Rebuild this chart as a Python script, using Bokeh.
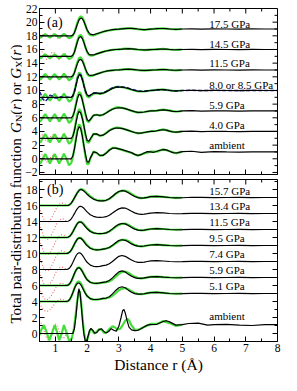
from bokeh.plotting import figure
from bokeh.layouts import row, column
from bokeh.models import FixedTicker, Range1d, Label
from bokeh.core.properties import value
from bokeh.embed import file_html
from bokeh.resources import INLINE
import math

SERIF = "Liberation Serif"
GREEN = "#45dd3c"
RED = "#f26a6a"
BLUE = "#1e1e90"

# ---------------- axis ticks ----------------
X_MAJOR = [1, 2, 3, 4, 5, 6, 7, 8]
X_MINOR = [0.5, 1.5, 2.5, 3.5, 4.5, 5.5, 6.5, 7.5]
YA_MAJOR = [-2, 0, 2, 4, 6, 8, 10, 12, 14, 16, 18, 20, 22]
YA_MINOR = [-1, 1, 3, 5, 7, 9, 11, 13, 15, 17, 19, 21]
YB_MAJOR = [0, 2, 4, 6, 8, 10, 12, 14, 16, 18]
YB_MINOR = [-1, 1, 3, 5, 7, 9, 11, 13, 15, 17, 19]

# ---------------- panel (a) ----------------
A_LABELS = ["ambient", "4.0 GPa", "5.9 GPa", "8.0 or 8.5 GPa", "11.5 GPa", "14.5 GPa", "17.5 GPa"]
A_OFFSET = [0, 3, 6, 9, 12, 15, 18]
A_LABEL_Y = [2.0, 5.0, 7.9, 10.8, 14.0, 16.75, 19.8]

RA = [0.5, 1.5, 1.55, 1.6, 1.65, 1.7, 1.75, 1.8, 1.85, 1.9, 1.95, 2.0, 2.05, 2.1,
      2.2, 2.3, 2.4, 2.5, 2.6, 2.7, 2.8, 2.9, 3.0, 3.1, 3.2, 3.3, 3.4, 3.5, 3.6, 3.7,
      3.8, 3.9, 4.0, 4.1, 4.2, 4.3, 4.4, 4.5, 4.6, 4.7, 4.8, 4.9,
      5.0, 5.3, 5.6, 6.0, 6.4, 6.8, 7.2, 7.6, 8.0]

A_AMB = [0, 0, 0.4, 1.4, 2.8, 4.1, 4.7, 4.4, 3.3, 1.9, 0.6, -0.45, -0.5, 0.1,
         1.0, 0.9, 0.5, 0.5, 0.8, 1.25, 1.55, 1.55, 1.45, 1.35, 1.2, 1.05, 0.9, 0.65, 0.5, 0.6,
         0.85, 1.05, 1.0, 0.95, 1.1, 1.25, 1.35, 1.3, 1.1, 0.9, 0.85, 0.95,
         1.05, 1.1, 0.95, 1.05, 1.0, 0.97, 1.02, 1.0, 1.0]
A_40 = [0, 0, 0.3, 1.1, 2.3, 3.4, 3.95, 3.7, 2.9, 1.8, 0.6, -0.3, -0.45, -0.1,
        0.6, 0.65, 0.4, 0.45, 0.75, 1.1, 1.35, 1.5, 1.5, 1.45, 1.3, 1.15, 1.0, 0.85, 0.75, 0.75,
        0.85, 0.95, 1.0, 1.0, 1.1, 1.2, 1.25, 1.2, 1.05, 0.92, 0.9, 0.95,
        1.0, 1.05, 0.97, 1.03, 1.0, 0.98, 1.01, 1.0, 1.0]
A_59 = [0, 0, 0.25, 0.9, 1.9, 2.9, 3.45, 3.3, 2.6, 1.6, 0.6, -0.25, -0.5, -0.25,
        0.35, 0.45, 0.35, 0.45, 0.7, 1.0, 1.25, 1.4, 1.45, 1.45, 1.35, 1.2, 1.05, 0.9, 0.8, 0.8,
        0.85, 0.95, 1.0, 1.0, 1.05, 1.12, 1.15, 1.12, 1.05, 0.95, 0.92, 0.95,
        1.0, 1.04, 0.98, 1.02, 1.0, 0.98, 1.01, 1.0, 1.0]
A_80 = [0, 0, 0.2, 0.8, 1.7, 2.7, 3.3, 3.2, 2.6, 1.7, 0.9, 0.35, 0.2, 0.3,
        0.6, 0.65, 0.55, 0.6, 0.8, 1.05, 1.3, 1.45, 1.5, 1.5, 1.4, 1.3, 1.15, 1.0, 0.9, 0.85,
        0.88, 0.95, 1.0, 1.02, 1.08, 1.12, 1.12, 1.08, 1.0, 0.95, 0.93, 0.96,
        1.0, 1.03, 0.98, 1.02, 1.0, 0.99, 1.01, 1.0, 1.0]
A_115 = [0, 0, 0.15, 0.6, 1.3, 2.0, 2.45, 2.55, 2.3, 1.75, 1.15, 0.6, 0.3, 0.2,
         0.25, 0.4, 0.55, 0.7, 0.82, 0.9, 0.95, 1.0, 1.02, 1.05, 1.1, 1.12, 1.1, 1.05, 1.0, 0.95,
         0.93, 0.95, 0.98, 1.0, 1.02, 1.05, 1.06, 1.04, 1.0, 0.97, 0.96, 0.98,
         1.0, 1.02, 0.99, 1.01, 1.0, 0.99, 1.01, 1.0, 1.0]
A_145 = [0, 0, 0.15, 0.6, 1.4, 2.2, 2.75, 2.9, 2.6, 2.0, 1.3, 0.7, 0.35, 0.2,
         0.2, 0.35, 0.5, 0.65, 0.78, 0.88, 0.95, 1.0, 1.03, 1.06, 1.1, 1.12, 1.1, 1.05, 1.0, 0.96,
         0.94, 0.95, 0.98, 1.0, 1.03, 1.05, 1.06, 1.04, 1.0, 0.97, 0.96, 0.98,
         1.0, 1.02, 0.99, 1.01, 1.0, 0.99, 1.01, 1.0, 1.0]
A_175 = [0, 0, 0.1, 0.45, 1.1, 1.8, 2.35, 2.6, 2.5, 2.1, 1.5, 0.9, 0.5, 0.25,
         0.15, 0.3, 0.45, 0.6, 0.72, 0.82, 0.9, 0.95, 0.98, 1.02, 1.06, 1.1, 1.1, 1.06, 1.0, 0.95,
         0.92, 0.93, 0.97, 1.0, 1.04, 1.07, 1.07, 1.04, 1.0, 0.96, 0.95, 0.97,
         1.0, 1.03, 0.98, 1.01, 1.0, 0.99, 1.01, 1.0, 1.0]

GA_R = [0.5, 0.53, 0.6, 0.68, 0.76, 0.83, 0.9, 0.98, 1.05, 1.12, 1.2, 1.27, 1.35, 1.43, 1.5,
        1.55, 1.6, 1.65, 1.7, 1.75, 1.8, 1.85, 1.9, 1.95, 2.0, 2.05, 2.1,
        2.2, 2.3, 2.4, 2.5, 2.6, 2.7, 2.8, 2.9, 3.0, 3.2, 3.4, 3.6, 3.8, 4.0, 4.2, 4.4, 4.6, 4.8, 5.0]
GA_AMB = [-0.55, -0.7, 0.0, 0.7, 0.0, -0.7, 0.0, 0.7, 0.0, -0.7, 0.0, 0.75, 0.0, -0.95, -0.6,
          0.2, 1.5, 3.0, 4.4, 5.05, 4.7, 3.4, 1.8, 0.3, -0.8, -0.75, 0.0,
          1.05, 0.85, 0.45, 0.5, 0.85, 1.3, 1.6, 1.6, 1.45, 1.15, 0.85, 0.45, 0.8, 1.05, 1.05, 1.4, 1.1, 0.8, 1.05]
GA_40 = [-0.45, -0.6, 0.0, 0.6, 0.0, -0.6, 0.0, 0.6, 0.0, -0.6, 0.0, 0.65, 0.0, -0.8, -0.5,
         0.15, 1.2, 2.5, 3.7, 4.25, 4.0, 3.0, 1.7, 0.4, -0.55, -0.65, -0.2,
         0.65, 0.6, 0.35, 0.45, 0.8, 1.15, 1.4, 1.55, 1.55, 1.3, 1.0, 0.7, 0.85, 1.0, 1.1, 1.3, 1.05, 0.88, 1.0]
GA_59 = [-0.4, -0.55, 0.0, 0.55, 0.0, -0.55, 0.0, 0.55, 0.0, -0.55, 0.0, 0.6, 0.0, -0.75, -0.45,
         0.1, 1.0, 2.1, 3.2, 3.75, 3.55, 2.7, 1.6, 0.45, -0.45, -0.65, -0.3,
         0.35, 0.45, 0.3, 0.45, 0.72, 1.05, 1.3, 1.5, 1.55, 1.35, 1.0, 0.75, 0.85, 1.0, 1.05, 1.2, 1.05, 0.9, 1.0]
GA_80 = [-0.35, -0.5, 0.0, 0.5, 0.0, -0.5, 0.0, 0.5, 0.0, -0.5, 0.0, 0.55, 0.0, -0.65, -0.4,
         0.1, 0.9, 1.9, 3.0, 3.6, 3.45, 2.75, 1.75, 0.8, 0.15, 0.0, 0.15,
         0.55, 0.6, 0.5, 0.6, 0.82, 1.1, 1.35, 1.5, 1.55, 1.4, 1.1, 0.85, 0.85, 1.0, 1.08, 1.15, 1.0, 0.92, 1.0]
GA_115 = [-0.3, -0.4, 0.0, 0.4, 0.0, -0.4, 0.0, 0.4, 0.0, -0.4, 0.0, 0.45, 0.0, -0.5, -0.3,
          0.05, 0.65, 1.45, 2.25, 2.75, 2.85, 2.5, 1.85, 1.1, 0.45, 0.15, 0.1,
          0.2, 0.4, 0.55, 0.7, 0.82, 0.9, 0.95, 1.0, 1.02, 1.12, 1.1, 0.98, 0.9, 0.98, 1.03, 1.08, 1.0, 0.95, 1.0]
GA_145 = [-0.2, -0.3, 0.0, 0.3, 0.0, -0.3, 0.0, 0.3, 0.0, -0.3, 0.0, 0.32, 0.0, -0.4, -0.25,
          0.05, 0.65, 1.5, 2.4, 3.0, 3.15, 2.8, 2.1, 1.3, 0.6, 0.25, 0.1,
          0.15, 0.33, 0.5, 0.65, 0.78, 0.88, 0.95, 1.0, 1.03, 1.12, 1.1, 0.98, 0.9, 0.98, 1.03, 1.08, 1.0, 0.95, 1.0]
GA_175 = [-0.18, -0.25, 0.0, 0.25, 0.0, -0.25, 0.0, 0.25, 0.0, -0.25, 0.0, 0.28, 0.0, -0.35, -0.2,
          0.02, 0.5, 1.2, 2.0, 2.6, 2.85, 2.7, 2.2, 1.5, 0.8, 0.35, 0.1,
          0.05, 0.25, 0.42, 0.58, 0.7, 0.8, 0.88, 0.94, 0.98, 1.08, 1.1, 0.98, 0.88, 0.97, 1.05, 1.08, 1.0, 0.94, 1.0]

RED_A_R = [0.5, 0.58, 0.65, 0.72, 0.8, 0.87, 0.95, 1.02, 1.1, 1.17, 1.25, 1.32, 1.4, 1.5]
RED_A_AMB = [0.3, 0.6, 0.1, -0.5, -0.3, 0.4, 0.55, 0.0, -0.55, -0.2, 0.5, 0.45, -0.3, 0.0]
RED_A_40 = [0.3, 0.55, 0.0, -0.5, -0.25, 0.45, 0.5, -0.05, -0.5, -0.15, 0.45, 0.35, -0.25, 0.0]
RED_A_145 = [0.3, 0.65, 0.3, -0.45, -0.3, 0.5, 0.65, 0.0, -0.5, -0.3, 0.3, 0.35, -0.1, 0.0]
RED_A_175 = [0.1, 0.2, 0.0, -0.2, -0.1, 0.15, 0.25, -0.1, -0.45, -0.3, 0.2, 0.3, -0.15, 0.0]

BLUE_R = [0.5, 0.53, 0.6, 0.68, 0.76, 0.83, 0.9, 0.98, 1.05, 1.12, 1.2, 1.27, 1.35, 1.43, 1.5,
          1.55, 1.6, 1.65, 1.7, 1.75, 1.8, 1.85, 1.9, 1.95, 2.0, 2.05, 2.1,
          2.2, 2.3, 2.4, 2.5, 2.6, 2.7, 2.8, 2.9, 3.0, 3.2, 3.4, 3.6, 3.8, 4.0, 4.2, 4.4, 4.6, 4.8, 5.0,
          5.3, 5.6, 6.0, 6.4, 6.8, 7.2, 7.6, 8.0]
BLUE_80 = [0.8, 0.6, -0.2, -0.6, -0.2, 0.3, 0.2, -0.1, -0.1, 0.1, 0.05, -0.05, 0.0, 0.0, 0.0,
           0.2, 0.85, 1.8, 2.85, 3.4, 3.3, 2.65, 1.7, 0.9, 0.35, 0.2, 0.3,
           0.6, 0.65, 0.55, 0.62, 0.85, 1.12, 1.38, 1.52, 1.55, 1.45, 1.2, 0.92, 0.88, 1.0, 1.08, 1.12, 1.02, 0.93, 1.0,
           1.03, 0.98, 1.02, 1.0, 0.99, 1.01, 1.0, 1.0]

# ---------------- panel (b) ----------------
B_LABELS = ["ambient", "5.1 GPa", "5.9 GPa", "7.4 GPa", "9.5 GPa", "11.5 GPa", "13.4 GPa", "15.7 GPa"]
B_OFFSET = [0, 4, 6, 8, 10, 12, 14, 16]
B_LABEL_Y = [2.2, 5.9, 7.95, 9.97, 11.9, 13.95, 16.0, 17.8]

RB = [0.5, 1.35, 1.4, 1.45, 1.5, 1.55, 1.6, 1.65, 1.7, 1.75, 1.8, 1.85, 1.9, 1.95, 2.0,
      2.1, 2.2, 2.3, 2.4, 2.5, 2.6, 2.7, 2.8, 2.9, 3.0, 3.1, 3.2, 3.3, 3.4, 3.5, 3.6, 3.7, 3.8, 3.9, 4.0,
      4.2, 4.4, 4.6, 4.8, 5.0, 5.3, 5.6, 6.0, 6.4, 6.8, 7.2, 7.6, 8.0]
B_157 = [0, 0, 0.02, 0.1, 0.3, 0.6, 0.95, 1.3, 1.65, 1.9, 2.0, 1.95, 1.8, 1.6, 1.4,
         1.05, 0.8, 0.65, 0.58, 0.58, 0.65, 0.85, 1.15, 1.5, 1.75, 1.85, 1.8, 1.6, 1.35, 1.12, 0.98, 0.92, 0.95, 1.02, 1.1,
         1.15, 1.08, 1.0, 0.96, 0.97, 1.03, 1.02, 0.98, 1.0, 1.01, 0.99, 1.0, 1.0]
B_134 = [0, 0, 0.03, 0.12, 0.32, 0.62, 0.98, 1.35, 1.65, 1.85, 1.9, 1.82, 1.65, 1.42, 1.2,
         0.85, 0.65, 0.55, 0.52, 0.53, 0.6, 0.78, 1.05, 1.35, 1.58, 1.7, 1.68, 1.5, 1.28, 1.08, 0.95, 0.9, 0.92, 0.98, 1.05,
         1.1, 1.07, 1.0, 0.97, 0.98, 1.02, 1.02, 0.98, 1.0, 1.01, 0.99, 1.0, 1.0]
B_115 = [0, 0, 0.03, 0.15, 0.38, 0.72, 1.1, 1.48, 1.78, 1.93, 1.93, 1.8, 1.58, 1.33, 1.1,
         0.75, 0.58, 0.5, 0.48, 0.5, 0.58, 0.78, 1.08, 1.4, 1.65, 1.75, 1.7, 1.5, 1.25, 1.05, 0.93, 0.9, 0.93, 1.0, 1.06,
         1.1, 1.06, 1.0, 0.97, 0.98, 1.02, 1.02, 0.98, 1.0, 1.01, 0.99, 1.0, 1.0]
B_95 = [0, 0, 0.04, 0.18, 0.42, 0.78, 1.18, 1.55, 1.83, 1.95, 1.9, 1.72, 1.48, 1.2, 0.98,
        0.65, 0.5, 0.45, 0.47, 0.55, 0.62, 0.75, 1.02, 1.35, 1.62, 1.72, 1.65, 1.45, 1.2, 1.02, 0.92, 0.9, 0.94, 1.0, 1.06,
        1.1, 1.05, 1.0, 0.97, 0.98, 1.02, 1.02, 0.98, 1.0, 1.01, 0.99, 1.0, 1.0]
B_74 = [0, 0, 0.05, 0.2, 0.48, 0.88, 1.32, 1.72, 2.0, 2.1, 2.02, 1.8, 1.5, 1.18, 0.9,
        0.55, 0.4, 0.37, 0.4, 0.48, 0.55, 0.72, 1.0, 1.35, 1.65, 1.75, 1.65, 1.42, 1.18, 1.0, 0.9, 0.88, 0.93, 1.0, 1.07,
        1.12, 1.06, 1.0, 0.97, 0.98, 1.02, 1.02, 0.98, 1.0, 1.01, 0.99, 1.0, 1.0]
B_59 = [0, 0, 0.05, 0.22, 0.55, 1.0, 1.5, 1.92, 2.18, 2.22, 2.05, 1.75, 1.38, 1.02, 0.72,
        0.4, 0.28, 0.27, 0.32, 0.4, 0.45, 0.62, 0.95, 1.35, 1.7, 1.82, 1.7, 1.42, 1.15, 0.98, 0.9, 0.9, 0.95, 1.02, 1.08,
        1.12, 1.05, 1.0, 0.97, 0.98, 1.02, 1.02, 0.98, 1.0, 1.01, 0.99, 1.0, 1.0]
B_51 = [0, 0, 0.06, 0.25, 0.62, 1.1, 1.62, 2.05, 2.28, 2.3, 2.1, 1.75, 1.35, 0.98, 0.68,
        0.36, 0.25, 0.25, 0.3, 0.38, 0.43, 0.6, 0.95, 1.38, 1.72, 1.85, 1.72, 1.42, 1.15, 0.98, 0.92, 0.92, 0.97, 1.05, 1.1,
        1.15, 1.08, 1.0, 0.97, 0.98, 1.02, 1.02, 0.98, 1.0, 1.01, 0.99, 1.0, 1.0]

RB_AMB = [0.5, 1.55, 1.6, 1.65, 1.7, 1.74, 1.78, 1.82, 1.86, 1.9, 1.94, 1.98, 2.02, 2.07, 2.12,
          2.18, 2.24, 2.3, 2.37, 2.45, 2.52, 2.6, 2.68, 2.76, 2.84, 2.92, 3.0, 3.07, 3.12, 3.16,
          3.2, 3.26, 3.32, 3.4, 3.5, 3.6, 3.7, 3.8, 3.9, 4.0, 4.2, 4.4, 4.5, 4.6, 4.8,
          5.0, 5.2, 5.5, 5.8, 6.0, 6.4, 6.8, 7.2, 7.6, 8.0]
B_AMB = [0, 0, 0.6, 2.2, 4.3, 5.6, 5.0, 3.3, 1.4, -0.1, -0.9, -1.0, -0.5, 0.3, 0.65,
         0.4, 0.05, 0.1, 0.45, 0.6, 0.3, 0.05, 0.25, 0.6, 0.4, 0.3, 0.9, 2.0, 2.85, 3.0,
         2.6, 1.6, 0.8, 0.45, 0.35, 0.4, 0.6, 0.85, 1.05, 1.1, 1.15, 1.5, 1.6, 1.45, 1.05,
         1.1, 1.25, 1.3, 1.05, 1.1, 1.15, 1.05, 1.0, 1.1, 1.1]

GB_AMB_R = [0.5, 0.56, 0.64, 0.72, 0.81, 0.89, 0.98, 1.05, 1.12, 1.2, 1.27, 1.35, 1.44, 1.52, 1.58,
            1.63, 1.68, 1.73, 1.77, 1.81, 1.86, 1.9, 1.95, 1.99, 2.04, 2.1, 2.16, 2.22, 2.3, 2.38,
            2.46, 2.54, 2.62, 2.7, 2.8, 2.88, 2.96, 3.05, 3.13, 3.2, 3.27, 3.33, 3.4, 3.5, 3.6,
            3.8, 4.0, 4.2, 4.4, 4.6, 4.8, 5.0]
GB_AMB = [-0.2, 0.5, 1.05, 0.2, -0.85, 0.0, 1.05, 0.2, -0.85, 0.0, 1.05, 0.1, -1.0, -0.6, 0.5,
          2.0, 3.8, 5.2, 5.3, 4.0, 1.8, 0.2, -0.9, -1.0, -0.3, 0.5, 0.45, 0.0, 0.2, 0.55,
          0.45, 0.05, 0.2, 0.55, 0.9, 0.75, 0.5, 0.6, 1.1, 1.6, 1.85, 1.6, 1.0, 0.5, 0.45,
          0.8, 1.2, 1.2, 1.55, 1.3, 0.95, 1.1]

GB_R = [0.5, 1.35, 1.4, 1.45, 1.5, 1.55, 1.6, 1.65, 1.7, 1.75, 1.8, 1.85, 1.9, 1.95, 2.0,
        2.1, 2.2, 2.3, 2.4, 2.5, 2.6, 2.7, 2.8, 2.9, 3.0, 3.1, 3.2, 3.3, 3.4, 3.5, 3.6, 3.7, 3.8, 3.9, 4.0,
        4.2, 4.4, 4.6, 4.8, 5.0]
GB_157 = [0, 0, 0.02, 0.1, 0.28, 0.58, 0.93, 1.3, 1.65, 1.92, 2.05, 2.02, 1.9, 1.72, 1.52,
          1.15, 0.85, 0.68, 0.6, 0.6, 0.66, 0.82, 1.1, 1.45, 1.72, 1.85, 1.85, 1.7, 1.45, 1.2, 1.02, 0.93, 0.95, 1.02, 1.1,
          1.15, 1.08, 1.0, 0.96, 0.97]
GB_115 = [0, 0, 0.03, 0.14, 0.36, 0.7, 1.08, 1.47, 1.78, 1.95, 1.97, 1.86, 1.66, 1.42, 1.18,
          0.8, 0.6, 0.5, 0.47, 0.5, 0.57, 0.75, 1.02, 1.32, 1.58, 1.72, 1.74, 1.6, 1.36, 1.12, 0.97, 0.9, 0.92, 0.99, 1.06,
          1.1, 1.06, 1.0, 0.97, 0.98]
GB_95 = [0, 0, 0.04, 0.17, 0.4, 0.76, 1.16, 1.54, 1.83, 1.97, 1.95, 1.8, 1.56, 1.28, 1.04,
         0.68, 0.52, 0.46, 0.47, 0.54, 0.62, 0.74, 0.98, 1.28, 1.56, 1.7, 1.72, 1.56, 1.3, 1.08, 0.95, 0.9, 0.93, 1.0, 1.06,
         1.1, 1.05, 1.0, 0.97, 0.98]
GB_59 = [0, 0, 0.05, 0.2, 0.5, 0.95, 1.45, 1.9, 2.2, 2.28, 2.12, 1.8, 1.42, 1.05, 0.74,
         0.4, 0.28, 0.27, 0.3, 0.37, 0.42, 0.52, 0.75, 1.1, 1.45, 1.68, 1.75, 1.6, 1.32, 1.08, 0.95, 0.9, 0.93, 1.0, 1.07,
         1.12, 1.05, 1.0, 0.97, 0.98]
GB_51 = [0, 0, 0.05, 0.22, 0.58, 1.08, 1.65, 2.15, 2.45, 2.5, 2.3, 1.9, 1.45, 1.03, 0.7,
         0.36, 0.24, 0.24, 0.28, 0.35, 0.4, 0.5, 0.72, 1.05, 1.4, 1.62, 1.68, 1.52, 1.28, 1.06, 0.95, 0.92, 0.96, 1.04, 1.1,
         1.16, 1.08, 1.0, 0.97, 0.98]

RED_B_R = [0.5, 0.55, 0.62, 0.7, 0.78, 0.86, 0.94, 1.02, 1.1, 1.18, 1.26, 1.34, 1.4]
RED_B_AMB = [0.9, 1.3, 0.7, -0.4, -0.8, -0.2, 0.8, 1.2, 0.5, -0.4, -0.6, -0.1, 0.3]
RED_B_51 = [-0.2, -0.6, -1.0, -1.25, -1.2, -0.9, -0.5, -0.1, 0.2, 0.3, 0.2, 0.05, 0.0]
RED_B_59 = [-0.3, -0.9, -1.5, -1.8, -1.75, -1.35, -0.8, -0.25, 0.15, 0.3, 0.22, 0.05, 0.0]
RED_B_74 = [-0.3, -1.0, -1.7, -2.05, -2.0, -1.6, -1.0, -0.35, 0.1, 0.32, 0.25, 0.05, 0.0]
RED_B_95 = [-0.35, -1.05, -1.75, -2.15, -2.1, -1.7, -1.05, -0.4, 0.1, 0.35, 0.28, 0.06, 0.0]
RED_B_115 = [-0.3, -1.0, -1.7, -2.1, -2.1, -1.7, -1.1, -0.4, 0.1, 0.35, 0.3, 0.08, 0.0]
RED_B_134 = [-0.3, -1.0, -1.75, -2.2, -2.2, -1.8, -1.15, -0.45, 0.08, 0.33, 0.3, 0.08, 0.0]
RED_B_157 = [-0.25, -0.9, -1.6, -2.0, -2.05, -1.7, -1.1, -0.45, 0.05, 0.3, 0.28, 0.07, 0.0]


def shifted(vals, off):
    return [v + off for v in vals]


def style_axis(ax, labels):
    ax.axis_line_color = "black"
    ax.axis_line_width = 1
    ax.major_tick_in = 5
    ax.major_tick_out = 0
    ax.minor_tick_in = 3
    ax.minor_tick_out = 0
    ax.major_tick_line_color = "black"
    ax.minor_tick_line_color = "black"
    if labels:
        ax.major_label_text_font = SERIF
        ax.major_label_text_font_size = "11.5px"
        ax.major_label_text_color = "black"
        ax.major_label_standoff = 2


LAB_W, LAB_H = 22, 375
MAIN_W = 281 - LAB_W


def make_panel(height, yr, ymaj, ymin, btop, bbottom, xlabels):
    p = figure(width=MAIN_W, height=height, x_range=Range1d(0.5, 8.0), y_range=Range1d(*yr),
               toolbar_location=None, output_backend="svg",
               min_border_left=13, min_border_right=4, min_border_top=btop, min_border_bottom=bbottom,
               background_fill_color="white", border_fill_color="white",
               outline_line_color="black", outline_line_width=1)
    p.grid.visible = False
    bottom = p.below[0]
    left = p.left[0]
    bottom.ticker = FixedTicker(ticks=X_MAJOR, minor_ticks=X_MINOR)
    left.ticker = FixedTicker(ticks=ymaj, minor_ticks=ymin)
    style_axis(bottom, xlabels)
    style_axis(left, True)
    if not xlabels:
        bottom.major_label_text_font_size = "0px"
        bottom.major_label_text_color = None
        bottom.major_label_standoff = 0
    # mirrored inward ticks on the top and right frame edges
    x1 = p.x_range.end
    y1 = p.y_range.end
    p.ray(x=X_MAJOR, y=[y1] * len(X_MAJOR), length=5, length_units="screen",
          angle=-math.pi / 2, line_color="black", line_width=1)
    p.ray(x=X_MINOR, y=[y1] * len(X_MINOR), length=3, length_units="screen",
          angle=-math.pi / 2, line_color="black", line_width=1)
    p.ray(x=[x1] * len(ymaj), y=ymaj, length=5, length_units="screen",
          angle=math.pi, line_color="black", line_width=1)
    p.ray(x=[x1] * len(ymin), y=ymin, length=3, length_units="screen",
          angle=math.pi, line_color="black", line_width=1)
    return p, bottom


# ---------------- panel (a) figure ----------------
pa, _ = make_panel(178, (-2.3, 22), YA_MAJOR, YA_MINOR, 8, 4, False)

A_BLACK = [A_AMB, A_40, A_59, A_80, A_115, A_145, A_175]
A_GREEN = [GA_AMB, GA_40, GA_59, GA_80, GA_115, GA_145, GA_175]
A_RED = {0: RED_A_AMB, 1: RED_A_40, 5: RED_A_145, 6: RED_A_175}

for i, off in enumerate(A_OFFSET):
    if i in A_RED:
        pa.line(RED_A_R, shifted(A_RED[i], off), line_color=RED, line_width=1.1, line_dash="1 2")
    pa.line(GA_R, shifted(A_GREEN[i], off), line_color=GREEN, line_width=2.2)
pa.line(BLUE_R, shifted(BLUE_80, A_OFFSET[3]), line_color=BLUE, line_width=1.5, line_dash="4 2")
for i, off in enumerate(A_OFFSET):
    pa.line(RA, shifted(A_BLACK[i], off), line_color="black", line_width=1.2)

pa.text(x=[5.85] * len(A_LABELS), y=A_LABEL_Y, text=A_LABELS, text_font=value(SERIF),
        text_font_size="11px", text_baseline="middle", text_align="left", text_color="black")
pa.text(x=[0.74], y=[19.9], text=["(a)"], text_font=value(SERIF), text_font_size="14px",
        text_baseline="middle", text_align="left", text_color="black")

# ---------------- panel (b) figure ----------------
pb, xb = make_panel(197, (-1, 19.25), YB_MAJOR, YB_MINOR, 1, 30, True)
xb.axis_label = "Distance r (Å)"
xb.axis_label_text_font = SERIF
xb.axis_label_text_font_size = "15.5px"
xb.axis_label_text_font_style = "normal"
xb.axis_label_text_color = "black"
xb.axis_label_standoff = 1

B_BLACK = [None, B_51, B_59, B_74, B_95, B_115, B_134, B_157]
B_GREEN = {1: GB_51, 2: GB_59, 4: GB_95, 5: GB_115, 7: GB_157}
B_RED = [RED_B_AMB, RED_B_51, RED_B_59, RED_B_74, RED_B_95, RED_B_115, RED_B_134, RED_B_157]

for i, off in enumerate(B_OFFSET):
    pb.line(RED_B_R, shifted(B_RED[i], off), line_color=RED, line_width=1.1, line_dash="1 2")
pb.line(GB_AMB_R, GB_AMB, line_color=GREEN, line_width=2.2)
for i, g in B_GREEN.items():
    pb.line(GB_R, shifted(g, B_OFFSET[i]), line_color=GREEN, line_width=2.2)
pb.line(RB_AMB, B_AMB, line_color="black", line_width=1.2)
for i in range(1, len(B_OFFSET)):
    pb.line(RB, shifted(B_BLACK[i], B_OFFSET[i]), line_color="black", line_width=1.2)

pb.text(x=[5.85] * len(B_LABELS), y=B_LABEL_Y, text=B_LABELS, text_font=value(SERIF),
        text_font_size="11px", text_baseline="middle", text_align="left", text_color="black")
pb.text(x=[0.74], y=[18.05], text=["(b)"], text_font=value(SERIF), text_font_size="14px",
        text_baseline="middle", text_align="left", text_color="black")

# ---------------- shared y-axis title (rotated, with subscripts) ----------------
pl = figure(width=LAB_W, height=LAB_H, x_range=Range1d(0, LAB_W), y_range=Range1d(0, LAB_H),
            toolbar_location=None, output_backend="svg", min_border=0,
            x_axis_location=None, y_axis_location=None, outline_line_color=None,
            background_fill_color="white", border_fill_color="white")
pl.grid.visible = False

ADV = {'T': 0.611, 'o': 0.5, 't': 0.278, 'a': 0.444, 'l': 0.278, ' ': 0.25, 'p': 0.5, 'i': 0.278,
       'r': 0.333, '-': 0.333, 'd': 0.5, 's': 0.389, 'b': 0.5, 'u': 0.5, 'n': 0.5, 'f': 0.333,
       'c': 0.444, '(': 0.333, ')': 0.333, 'G': 0.722, 'N': 0.722, 'X': 0.722}
ADV_IT = {'r': 0.389, 'G': 0.722}
FS, FS_SUB = 15.0, 10.5
pieces = [("Total pair-distribution function ", "normal", FS, 0.0),
          ("G", "italic", FS, 0.0), ("N", "normal", FS_SUB, 3.1),
          ("(", "normal", FS, 0.0), ("r", "italic", FS, 0.0), (") or ", "normal", FS, 0.0),
          ("G", "italic", FS, 0.0), ("X", "normal", FS_SUB, 3.1),
          ("(", "normal", FS, 0.0), ("r", "italic", FS, 0.0), (")", "normal", FS, 0.0)]
pos = 52.0
base_x = 15.5
for txt, style, size, shift in pieces:
    table = ADV_IT if style == "italic" else ADV
    w = sum(table.get(ch, 0.5) for ch in txt) * size
    pl.add_layout(Label(x=base_x + shift, y=pos, text=txt.rstrip(), angle=math.pi / 2,
                        text_font=SERIF, text_font_size=f"{size}px", text_font_style=style,
                        text_align="left", text_baseline="alphabetic", text_color="black"))
    pos += w

layout = row(pl, column(pa, pb))
open("out.html", "w").write(file_html(layout, INLINE))
